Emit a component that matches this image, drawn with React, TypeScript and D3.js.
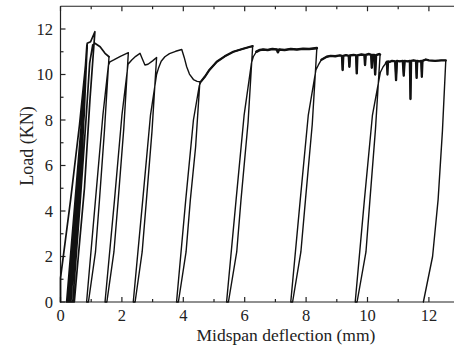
import React from "react";
import * as d3 from "d3";

type P = [number, number];

const xTicksMajor = [0, 2, 4, 6, 8, 10, 12];
const xTicksMinor = [1, 3, 5, 7, 9, 11];
const yTicksMajor = [0, 2, 4, 6, 8, 10, 12];
const yTicksMinor = [1, 3, 5, 7, 9, 11];
const xTitle = "Midspan deflection (mm)";
const yTitle = "Load (KN)";

// deflection (mm), load (kN)
const earlyLoops: P[] = [
  [0, 0], [0, 1.05], [0.33, 4.5], [0.62, 7.8], [0.8, 10.2], [0.87, 11.2],
  [0.7, 7.2], [0.5, 3.1], [0.26, 0],
  [0.2, 0], [0.46, 4.2], [0.7, 8.2], [0.86, 11.3],
  [0.71, 7.4], [0.52, 3.3], [0.3, 0],
  [0.23, 0], [0.49, 4.3], [0.72, 8.3], [0.86, 11.3],
  [0.72, 7.3], [0.54, 3.2], [0.33, 0],
  [0.28, 0], [0.52, 4.2], [0.74, 8.1], [0.87, 11.3],
  [0.74, 7.5], [0.57, 3.4], [0.4, 0],
  [0.34, 0], [0.56, 4.3], [0.77, 8.2], [0.87, 11.37], [0.98, 11.44], [1.12, 11.88],
  [0.96, 8.9], [0.78, 5.0], [0.58, 2.0], [0.45, 0],
  [0.4, 0], [0.62, 4.0], [0.83, 8.0], [0.95, 10.5], [1.05, 11.3], [1.12, 11.37],
  [1.29, 11.22], [1.45, 10.93], [1.58, 10.78],
];
const cycle1: P[] = [
  [1.58, 10.78], [1.43, 7.5], [1.27, 4.5], [1.14, 2.2], [0.91, 0], [0.85, 0], [1.14, 4.5], [1.38, 8.2],
  [1.56, 10.4], [1.61, 10.56], [1.75, 10.65], [1.95, 10.8], [2.21, 10.96],
];
const cycle2: P[] = [
  [2.06, 7.6], [1.88, 4.5], [1.74, 2.2], [1.51, 0], [1.45, 0], [1.76, 4.5], [2.0, 8.2],
  [2.2, 10.45], [2.32, 10.64], [2.45, 10.8], [2.59, 10.93], [2.66, 10.7], [2.75, 10.42],
  [2.85, 10.45], [3.0, 10.6], [3.13, 10.75],
];
const cycle3: P[] = [
  [2.98, 7.5], [2.8, 4.5], [2.66, 2.2], [2.43, 0], [2.37, 0], [2.68, 4.5], [2.93, 8.2],
  [3.13, 10.0], [3.19, 10.27], [3.28, 10.58], [3.4, 10.78], [3.55, 10.92], [3.75, 11.02],
  [3.95, 11.1], [4.03, 10.75], [4.11, 10.34], [4.2, 10.02], [4.33, 9.78], [4.45, 9.7], [4.54, 9.68],
];
const cycle4: P[] = [
  [4.4, 6.8], [4.23, 4.5], [4.09, 2.2], [3.84, 0], [3.78, 0], [4.08, 4.5], [4.33, 8.0],
  [4.52, 9.5], [4.58, 9.7],
];
const hardening4: P[] = [
  [4.58, 9.7], [4.7, 9.9], [4.85, 10.2], [5.09, 10.56], [5.35, 10.8], [5.63, 11.0],
  [5.95, 11.13], [6.26, 11.25],
];
const cycle5: P[] = [
  [6.26, 11.25], [6.11, 7.9], [5.88, 4.5], [5.74, 2.2], [5.47, 0], [5.41, 0], [5.72, 4.5],
  [5.98, 8.2], [6.22, 10.5], [6.28, 10.78], [6.38, 11.0], [6.5, 11.08],
];
const plateau5: P[] = [
  [6.38, 11.0], [6.5, 11.08], [6.6, 11.1], [6.75, 11.08], [6.9, 11.12], [7.05, 11.1], [7.08, 10.98],
  [7.12, 11.1], [7.3, 11.08], [7.5, 11.12], [7.7, 11.1], [7.9, 11.13], [8.1, 11.12], [8.35, 11.16],
];
const cycle6: P[] = [
  [8.35, 11.16], [8.2, 7.8], [7.98, 4.5], [7.83, 2.2], [7.56, 0], [7.5, 0], [7.81, 4.5],
  [8.07, 8.2], [8.32, 10.2], [8.4, 10.42], [8.5, 10.65], [8.67, 10.78],
];
const plateau6: P[] = [
  [8.5, 10.65], [8.67, 10.78], [8.8, 10.82], [8.95, 10.8], [9.1, 10.84], [9.17, 10.82], [9.19, 10.2],
  [9.21, 10.82], [9.3, 10.85], [9.39, 10.82], [9.41, 10.34], [9.43, 10.84], [9.55, 10.86],
  [9.63, 10.84], [9.65, 10.05], [9.67, 10.84], [9.8, 10.88], [9.9, 10.86], [9.92, 10.42],
  [9.94, 10.86], [10.05, 10.9], [10.12, 10.86], [10.14, 10.3], [10.16, 10.86], [10.22, 10.86],
  [10.25, 10.0], [10.28, 10.85], [10.38, 10.9], [10.41, 10.88],
];
const cycle7: P[] = [
  [10.41, 10.88], [10.26, 7.6], [10.08, 4.5], [9.95, 2.2], [9.66, 0], [9.6, 0], [9.9, 4.5],
  [10.16, 8.2], [10.42, 10.1], [10.51, 10.34], [10.6, 10.5], [10.73, 10.56],
];
const plateau7: P[] = [
  [10.6, 10.5], [10.63, 10.56], [10.65, 10.0], [10.67, 10.58], [10.73, 10.56], [10.8, 10.6],
  [10.9, 10.58], [10.93, 9.75], [10.96, 10.6], [11.05, 10.58], [11.15, 10.6], [11.18, 9.95],
  [11.21, 10.6], [11.3, 10.58], [11.38, 10.6], [11.4, 8.92], [11.42, 10.6], [11.5, 10.62],
  [11.58, 10.6], [11.6, 9.85], [11.62, 10.6], [11.7, 10.58], [11.75, 10.6], [11.77, 9.9],
  [11.79, 10.6], [11.9, 10.66], [12.0, 10.62], [12.2, 10.6], [12.4, 10.62], [12.55, 10.62],
];
const cycle8: P[] = [
  [12.55, 10.62], [12.44, 7.5], [12.3, 4.5], [12.12, 2.0], [11.82, 0],
];

const W = 454;
const H = 347;
const x = d3.scaleLinear().domain([0, 13]).range([60.5, 459.6]);
const y = d3.scaleLinear().domain([0, 13]).range([302, 6.25]);

const line = d3
  .line<P>()
  .x((d) => x(d[0]))
  .y((d) => y(d[1]));

const thinPath: P[] = [
  ...cycle1,
  ...cycle2,
  ...cycle3,
  ...cycle4,
  ...hardening4,
  ...cycle5,
  ...plateau5.slice(2),
  ...cycle6,
  ...plateau6.slice(2),
  ...cycle7,
  ...plateau7.slice(5),
  ...cycle8,
];

const serif: React.CSSProperties = {
  fontFamily: '"Liberation Serif", "Times New Roman", Times, serif',
};

export default function App() {
  const x0 = x.range()[0];
  const x1 = x.range()[1];
  const y0 = y.range()[0];
  const y1 = y.range()[1];
  return (
    <div style={{ position: "fixed", left: 0, top: 0 }}>
      <svg width={W} height={H} style={{ display: "block", background: "#fff" }}>
        <g fill="#222">
          <g stroke="#222" strokeWidth={1.2} fill="none">
            <line x1={x0} x2={x1} y1={y0} y2={y0} />
            <line x1={x0} x2={x1} y1={y1} y2={y1} />
            <line x1={x0} x2={x0} y1={y0} y2={y1} />
            <line x1={x1} x2={x1} y1={y0} y2={y1} />
            {xTicksMajor.map((t) => (
              <g key={"xm" + t}>
                <line x1={x(t)} x2={x(t)} y1={y0} y2={y0 - 5} />
                <line x1={x(t)} x2={x(t)} y1={y1} y2={y1 + 5} />
              </g>
            ))}
            {xTicksMinor.map((t) => (
              <g key={"xn" + t}>
                <line x1={x(t)} x2={x(t)} y1={y0} y2={y0 - 3} />
                <line x1={x(t)} x2={x(t)} y1={y1} y2={y1 + 3} />
              </g>
            ))}
            {yTicksMajor.map((t) => (
              <line key={"ym" + t} x1={x0} x2={x0 + 5} y1={y(t)} y2={y(t)} />
            ))}
            {yTicksMinor.map((t) => (
              <line key={"yn" + t} x1={x0} x2={x0 + 3} y1={y(t)} y2={y(t)} />
            ))}
          </g>
          {xTicksMajor.map((t) => (
            <text key={"xl" + t} x={x(t)} y={321} textAnchor="middle" fontSize={16.5} style={serif}>
              {t}
            </text>
          ))}
          {yTicksMajor.map((t) => (
            <text key={"yl" + t} x={53} y={y(t)} dy="0.35em" textAnchor="end" fontSize={16.5} style={serif}>
              {t}
            </text>
          ))}
          <text x={286} y={341} textAnchor="middle" fontSize={17.5} style={serif}>
            {xTitle}
          </text>
          <text
            transform="translate(33,146) rotate(-90)"
            textAnchor="middle"
            fontSize={18}
            style={serif}
          >
            {yTitle}
          </text>
        </g>
        <g fill="none" stroke="#111" strokeLinejoin="round" strokeLinecap="round">
          <path d={line(earlyLoops) || ""} strokeWidth={1.7} />
          <path d={line(thinPath) || ""} strokeWidth={1.4} />
          <path d={line(hardening4) || ""} strokeWidth={2.2} />
          <path d={line(plateau5) || ""} strokeWidth={2.6} />
          <path d={line(plateau6) || ""} strokeWidth={2.4} />
          <path d={line(plateau7) || ""} strokeWidth={2.3} />
        </g>
      </svg>
    </div>
  );
}
